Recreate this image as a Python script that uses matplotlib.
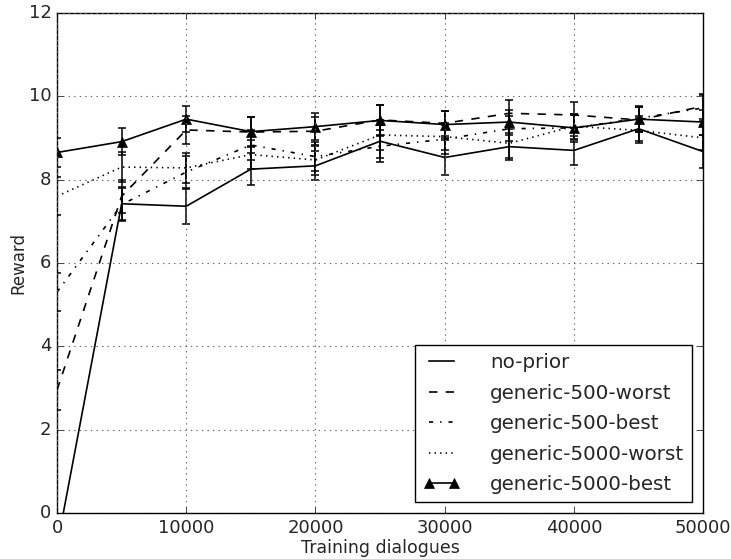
import matplotlib
matplotlib.use("Agg")
import matplotlib.pyplot as plt

# Datos
dialogos = [0, 5000, 10000, 15000, 20000, 25000, 30000, 35000, 40000, 45000, 50000]

no_prior = [-0.8, 7.42, 7.36, 8.25, 8.33, 8.92, 8.53, 8.79, 8.70, 9.22, 8.67]
no_prior_err = [0.45, 0.40, 0.42, 0.38, 0.35, 0.40, 0.42, 0.32, 0.35, 0.30, 0.40]

g500_worst = [2.95, 7.60, 9.19, 9.14, 9.16, 9.43, 9.35, 9.59, 9.55, 9.43, 9.76]
g500_worst_err = [0.48, 0.40, 0.33, 0.35, 0.35, 0.35, 0.30, 0.32, 0.32, 0.30, 0.30]

g500_best = [5.30, 7.40, 8.18, 8.83, 8.55, 8.80, 8.97, 9.22, 9.24, 9.47, 9.72]
g500_best_err = [0.46, 0.40, 0.38, 0.35, 0.35, 0.38, 0.35, 0.30, 0.30, 0.30, 0.32]

g5000_worst = [7.60, 8.30, 8.28, 8.60, 8.47, 9.07, 9.03, 8.87, 9.28, 9.18, 9.00]
g5000_worst_err = [0.45, 0.35, 0.36, 0.35, 0.35, 0.35, 0.32, 0.35, 0.30, 0.30, 0.30]

g5000_best = [8.65, 8.91, 9.45, 9.15, 9.27, 9.42, 9.32, 9.38, 9.24, 9.45, 9.38]
g5000_best_err = [0.35, 0.32, 0.32, 0.34, 0.33, 0.38, 0.33, 0.30, 0.33, 0.30, 0.30]

series = [
    ("no-prior", no_prior, no_prior_err, "-", None),
    ("generic-500-worst", g500_worst, g500_worst_err, (0, (6, 6)), None),
    ("generic-500-best", g500_best, g500_best_err, (0, (3, 5, 1, 5)), None),
    ("generic-5000-worst", g5000_worst, g5000_worst_err, (0, (1, 3)), None),
    ("generic-5000-best", g5000_best, g5000_best_err, "-", "^"),
]

plt.style.use("classic")
plt.rcParams["font.family"] = ["DejaVu Sans"]
texto = "0.15"

fig = plt.figure(figsize=(7.31, 5.59), dpi=100, facecolor="white")
ax = fig.add_axes([0.078, 0.0823, 0.884, 0.8947])
ax.set_facecolor("white")

for nome, valores, erros, estilo, marcador in series:
    ax.errorbar(dialogos, valores, yerr=erros, fmt="none", ecolor="k",
                elinewidth=1.1, capsize=3.2, capthick=1.1)
    ax.plot(dialogos, valores, color="k", linestyle=estilo, linewidth=1.2,
            marker=marcador, markersize=7, label=nome)

ax.set_xlim(0, 50000)
ax.set_ylim(0, 12)
ax.set_xticks([0, 10000, 20000, 30000, 40000, 50000])
ax.set_yticks([0, 2, 4, 6, 8, 10, 12])
ax.tick_params(labelsize=13, labelcolor=texto, direction="in",
               top=True, right=True)
ax.grid(True, color="0.4", linestyle=":", linewidth=0.8)

ax.set_xlabel("Training dialogues", fontsize=12.5, color=texto, labelpad=2)
ax.set_ylabel("Reward", fontsize=12, color=texto, labelpad=1)

leg = ax.legend(loc="lower right", fontsize=14.3, numpoints=2,
                fancybox=False, handlelength=1.9, borderaxespad=0.55,
                labelspacing=0.58, handletextpad=1.5, borderpad=0.4)
leg.get_frame().set_edgecolor("k")
leg.get_frame().set_linewidth(1.0)
for t in leg.get_texts():
    t.set_color(texto)

fig.savefig("out.png", dpi=100, facecolor="white")
